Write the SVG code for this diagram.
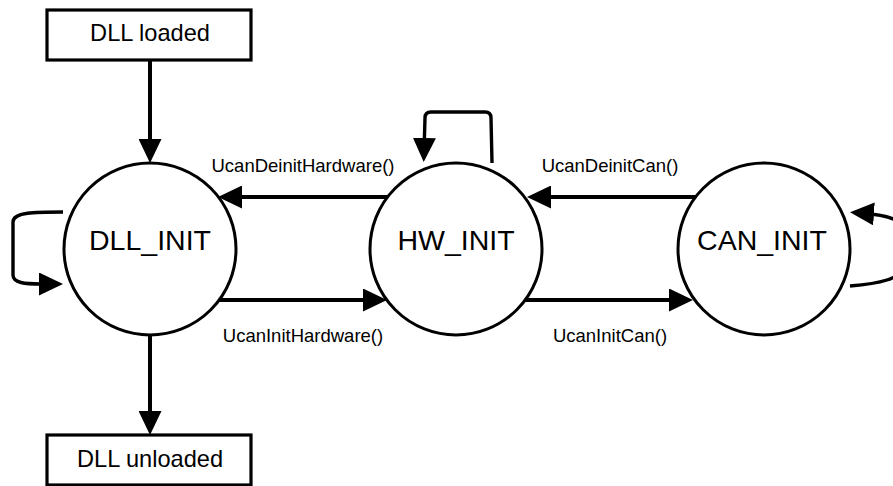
<svg xmlns="http://www.w3.org/2000/svg" width="893" height="486" viewBox="0 0 893 486">
<style>
  .box { fill: #fff; stroke: #000; stroke-width: 3.2; }
  .state { fill: #fff; stroke: #000; stroke-width: 3; }
  .edge { fill: none; stroke: #000; stroke-width: 4; }
  .loop { fill: none; stroke: #000; stroke-width: 3.4; stroke-linejoin: round; }
  text { font-family: "Liberation Sans", Arial, Helvetica, sans-serif; fill: #000; text-anchor: middle; }
  .bt { font-size: 23.6px; }
  .st { font-size: 28.5px; }
  .lb { font-size: 18.5px; }
</style>
<defs>
  <marker id="ah" viewBox="0 0 24 23" refX="14" refY="11.5" markerWidth="24" markerHeight="23" markerUnits="userSpaceOnUse" orient="auto">
    <path d="M0 0 L24 11.5 L0 23 Z" fill="#000"/>
  </marker>
</defs>
<rect width="893" height="486" fill="#fff"/>
<g id="connectors">
  <path class="edge" d="M150 60 V153" marker-end="url(#ah)"/>
  <path class="edge" d="M150 335 V425" marker-end="url(#ah)"/>
  <path class="edge" d="M388 197 H228" marker-end="url(#ah)"/>
  <path class="edge" d="M219 300 H377" marker-end="url(#ah)"/>
  <path class="edge" d="M696 197 H537" marker-end="url(#ah)"/>
  <path class="edge" d="M525 300 H683" marker-end="url(#ah)"/>
  <path class="loop" d="M63 212 C 35 212, 13 212, 13 222 L 13 275 C 13 283, 25 284, 41 284 H53" marker-end="url(#ah)"/>
  <path class="loop" d="M492 163 L491 118 Q491 112 485 112 L431 112 Q425 112 425 118 L424 152" marker-end="url(#ah)"/>
  <path class="loop" d="M850 286 C 875 284, 905 280, 905 262 L905 235 C905 220, 890 215, 860 213" marker-end="url(#ah)"/>
</g>
<g id="dll_loaded">
  <rect class="box" x="47" y="10" width="204" height="50"/>
  <text class="bt" x="150" y="41">DLL loaded</text>
</g>
<g id="dll_unloaded">
  <rect class="box" x="47" y="435" width="204" height="50"/>
  <text class="bt" x="150" y="467">DLL unloaded</text>
</g>
<g id="dll_init">
  <circle class="state" cx="150" cy="249" r="86"/>
  <text class="st" x="150" y="250">DLL_INIT</text>
</g>
<g id="hw_init">
  <circle class="state" cx="456" cy="249" r="86"/>
  <text class="st" x="456" y="250">HW_INIT</text>
</g>
<g id="can_init">
  <circle class="state" cx="764" cy="249" r="86"/>
  <text class="st" x="762" y="250">CAN_INIT</text>
</g>
<g id="labels">
  <text class="lb" x="303" y="172">UcanDeinitHardware()</text>
  <text class="lb" x="303" y="342">UcanInitHardware()</text>
  <text class="lb" x="610" y="172">UcanDeinitCan()</text>
  <text class="lb" x="610" y="342">UcanInitCan()</text>
</g>
</svg>
